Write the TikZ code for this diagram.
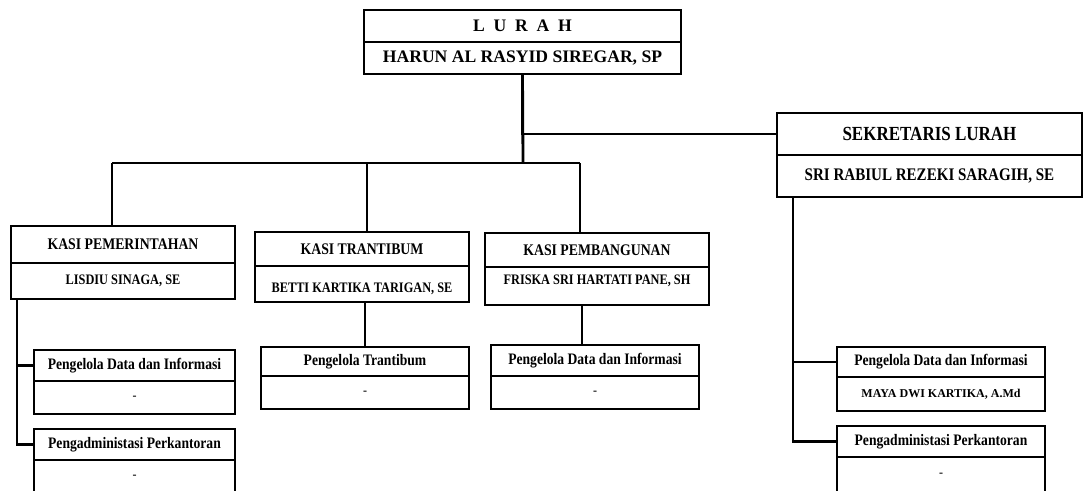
\documentclass[tikz,border=0pt]{standalone}
\usepackage{fontspec}
\setmainfont{Liberation Serif}
\newfontfamily\cond[FakeStretch=0.85]{Liberation Serif}
\usepackage{tikz}

\newcommand{\fbesar}{\fontsize{17.6}{20}\selectfont\bfseries}
\newcommand{\fsek}{\cond\fontsize{20}{22}\selectfont\bfseries}
\newcommand{\fsekb}{\cond\fontsize{17.7}{20}\selectfont\bfseries}
\newcommand{\fkasi}{\cond\fontsize{16.2}{18}\selectfont\bfseries}
\newcommand{\fnama}{\cond\fontsize{14.5}{16}\selectfont\bfseries}
\newcommand{\fstaf}{\cond\fontsize{16}{18}\selectfont\bfseries}
\newcommand{\fkecil}{\fontsize{12}{14}\selectfont\bfseries}

\tikzset{kotak/.style={draw,line width=1.8pt,inner sep=0pt,outer sep=0pt,align=center},
         garis/.style={line width=2.8pt}}

% two-part box: name, x, y, width, top height, bottom height, title, person
\newcommand{\jabatan}[8]{\node[kotak,anchor=north west,minimum width=#4pt,minimum height=#5pt] (#1) at (#2,#3) {#7};
\node[kotak,anchor=north,minimum width=#4pt,minimum height=#6pt] (#1-b) at (#1.south) {#8};}

\begin{document}
\begin{tikzpicture}[x=1pt,y=-1pt]
\useasboundingbox (0,0) rectangle (1084,490);
\jabatan{lurah}{364}{10}{317}{32}{32}{\fbesar L\enspace U\enspace R\enspace A\enspace H}{\fbesar HARUN AL RASYID SIREGAR, SP}
\jabatan{sekre}{777}{113}{305}{42}{42}{\fsek SEKRETARIS LURAH}{\fsekb SRI RABIUL REZEKI SARAGIH, SE}
\jabatan{pem}{11}{226}{224}{37}{36}{\fkasi KASI PEMERINTAHAN}{\fnama LISDIU SINAGA, SE}
\jabatan{tran}{255}{232}{214}{34}{36}{\fkasi KASI TRANTIBUM}{\fnama\raisebox{-5pt}[8pt][2pt]{BETTI KARTIKA TARIGAN, SE}}
\jabatan{bang}{485}{233}{224}{34}{38}{\fkasi KASI PEMBANGUNAN}{\fnama\raisebox{5pt}[8pt][2pt]{FRISKA SRI HARTATI PANE, SH}}
\jabatan{pem1}{34}{350}{201}{31}{33}{\fstaf Pengelola Data dan Informasi}{\fkecil -}
\jabatan{pem2}{34}{429}{201}{31}{33}{\fstaf Pengadministasi Perkantoran}{\fkecil -}
\jabatan{tran1}{261}{347}{208}{29}{33}{\fstaf Pengelola Trantibum}{\fkecil -}
\jabatan{bang1}{491}{345}{208}{31}{33}{\fstaf Pengelola Data dan Informasi}{\fkecil -}
\jabatan{sek1}{837}{347}{208}{30}{34}{\fstaf Pengelola Data dan Informasi}{\fkecil MAYA DWI KARTIKA, A.Md}
\jabatan{sek2}{837}{426}{208}{31}{35}{\fstaf Pengadministasi Perkantoran}{\fkecil -}

% lines
\coordinate (cabang) at (523,163);
\coordinate (dropP) at (112,163);
\coordinate (dropT) at (367,163);
\coordinate (dropB) at (580,163);
\draw[garis] (lurah-b.south) |- (sekre.west);
\draw[garis] (lurah-b.south) -- (cabang);
\draw[garis] (dropP) -- (dropB);
\draw[garis] (dropP) -- (dropP |- pem.north);
\draw[garis] (dropT) -- (dropT |- tran.north);
\draw[garis] (dropB) -- (dropB |- bang.north);
\draw[garis] ([xshift=6pt]pem-b.south west) |- (pem1.west);
\draw[garis] ([xshift=6pt]pem-b.south west) |- (pem2.west);
\draw[garis] (tran1.north |- tran-b.south) -- (tran1.north);
\draw[garis] ([xshift=-15pt]bang-b.south) -- ([xshift=-15pt]bang-b.south |- bang1.north);
\draw[garis] ([xshift=16pt]sekre-b.south west) |- (sek1.west);
\draw[garis] ([xshift=16pt]sekre-b.south west) |- (sek2.west);
\end{tikzpicture}
\end{document}
